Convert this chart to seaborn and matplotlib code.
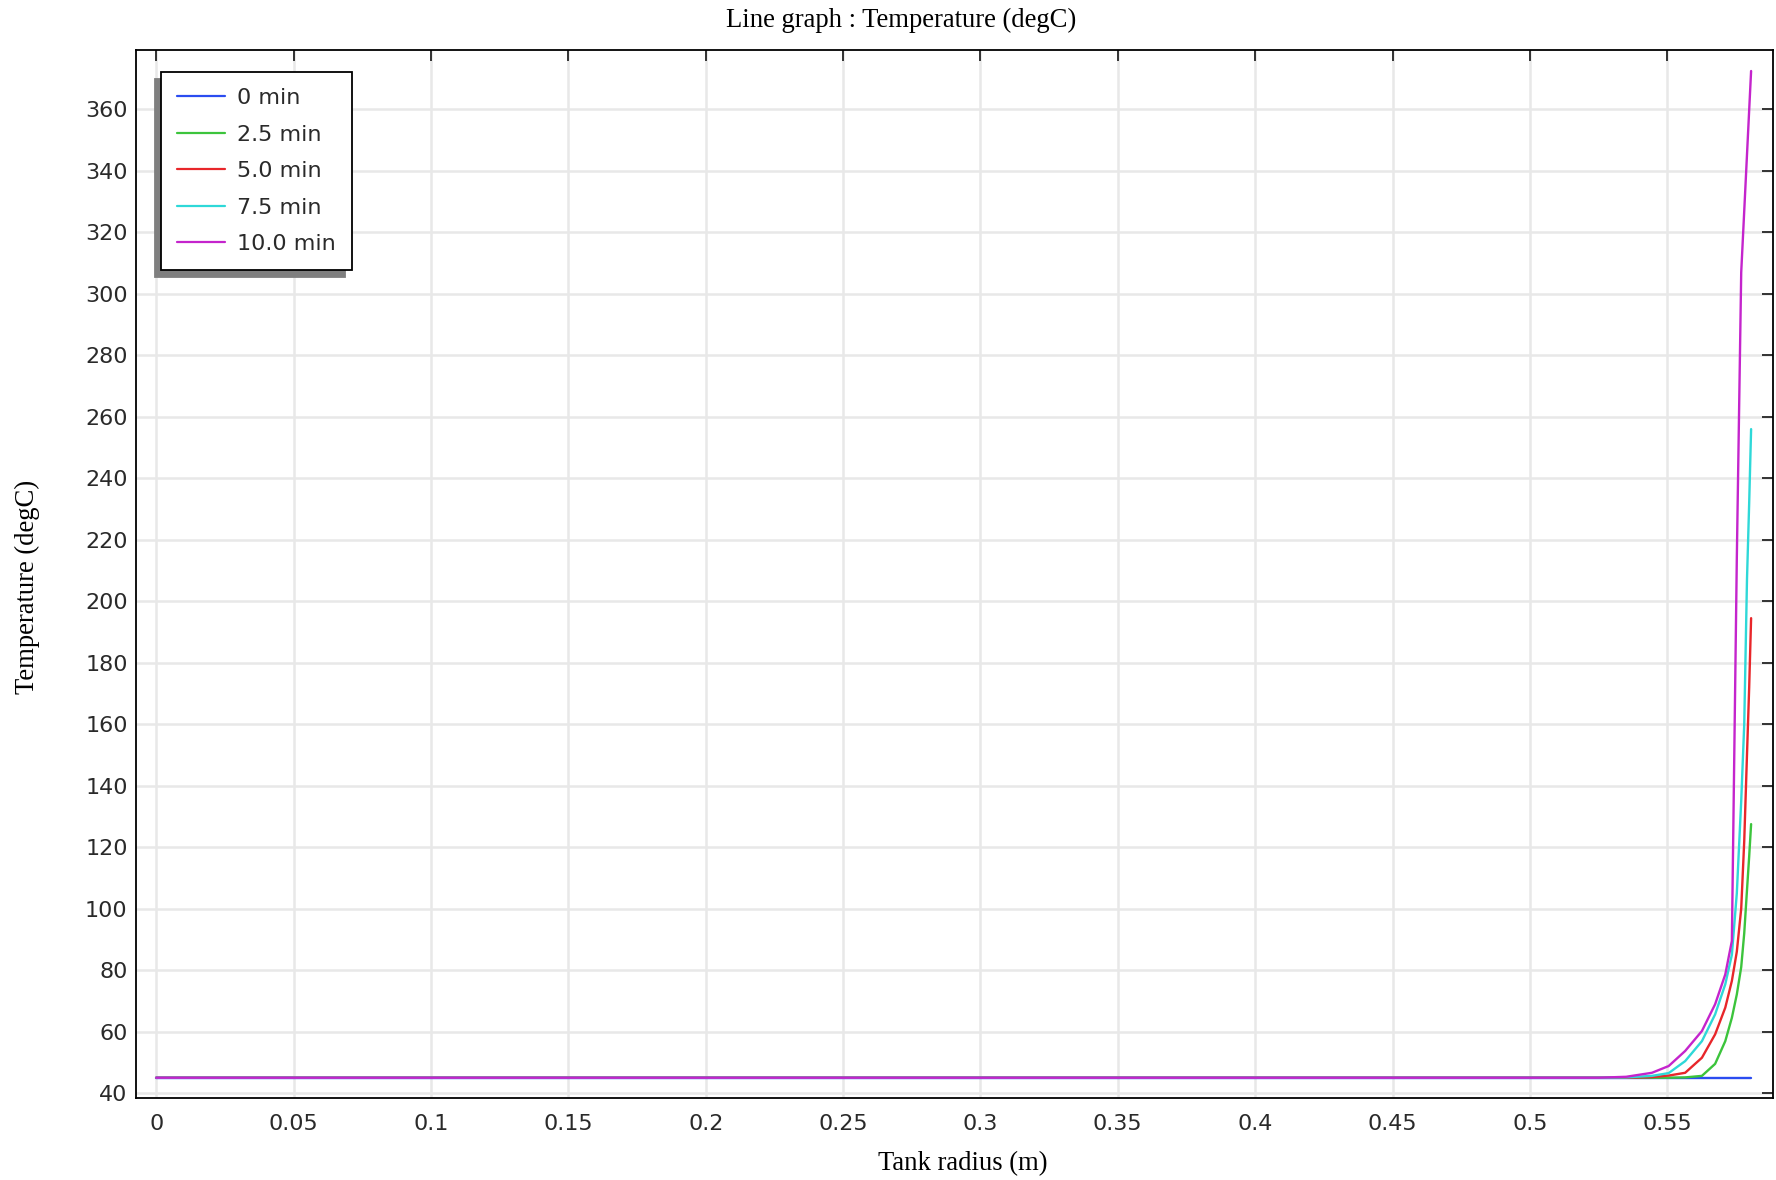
import matplotlib
matplotlib.use("Agg")
import matplotlib.pyplot as plt
import numpy as np
import pandas as pd
import seaborn as sns

# Radial sample positions (m) and temperature profiles (degC) at each time
radius_m = [0.0, 0.50, 0.525, 0.535, 0.5444, 0.5505, 0.5565, 0.5626, 0.5674,
            0.5711, 0.5735, 0.5753, 0.5769, 0.5780, 0.5790, 0.5798, 0.5805]
temp_0min = [45, 45, 45, 45, 45, 45, 45, 45, 45, 45, 45, 45, 45, 45, 45, 45, 45]
temp_2_5min = [45, 45, 45, 45, 45, 45, 45.1, 45.6, 49.5, 56.9, 64.5, 72.1, 81,
               92, 106, 117, 127.5]
temp_5_0min = [45, 45, 45, 45, 45.2, 45.7, 46.6, 51.5, 59.1, 67.8, 76.5, 86,
               100, 122, 150, 172, 194.5]
temp_7_5min = [45, 45, 45, 45.1, 45.6, 46.5, 50.4, 56.9, 65.6, 75.4, 85, 105,
               135, 160, 207, 232, 256]
temp_10_0min = [45, 45, 45, 45.3, 46.6, 48.8, 53.7, 60.2, 68.9, 78.6, 89.5,
                214, 307, 327, 345.2, 359.8, 372.5]

time_labels = ["0 min", "2.5 min", "5.0 min", "7.5 min", "10.0 min"]
line_colors = ["#2b4cf0", "#3cc43c", "#e8262a", "#2ed8d8", "#c424cc"]

x_ticks = [0, 0.05, 0.1, 0.15, 0.2, 0.25, 0.3, 0.35, 0.4, 0.45, 0.5, 0.55]
x_tick_labels = ["0", "0.05", "0.1", "0.15", "0.2", "0.25", "0.3", "0.35",
                 "0.4", "0.45", "0.5", "0.55"]
y_ticks = list(range(40, 361, 20))

profiles = [temp_0min, temp_2_5min, temp_5_0min, temp_7_5min, temp_10_0min]
df = pd.concat(
    [pd.DataFrame({"radius": radius_m, "temp": t, "time": lbl})
     for lbl, t in zip(time_labels, profiles)],
    ignore_index=True,
)

sns.set_style("white")
plt.rcParams["font.family"] = ["DejaVu Sans"]

fig = plt.figure(figsize=(17.76, 11.80), dpi=100)
W, H = 1776, 1180
left, right, top, bottom = 136, 1773, 49.5, 1098
ax = fig.add_axes([left / W, 1 - bottom / H, (right - left) / W, (bottom - top) / H])

sns.lineplot(data=df, x="radius", y="temp", hue="time", hue_order=time_labels,
             palette=line_colors, estimator=None, sort=False, linewidth=1.7,
             ax=ax)

ax.set_xlim(-0.00735, 0.58847)
ax.set_ylim(38.4, 379.5)
ax.set_xticks(x_ticks)
ax.set_xticklabels(x_tick_labels)
ax.set_yticks(y_ticks)

ax.grid(True, color="#e8e8e8", linewidth=1.8)
ax.set_axisbelow(True)
for s in ax.spines.values():
    s.set_visible(True)
    s.set_color("black")
    s.set_linewidth(1.3)

ax.tick_params(axis="both", direction="in", length=8, width=1.1, color="black",
               labelsize=16, labelcolor="#2a2a2a", top=True, right=True,
               labeltop=False, labelright=False)
ax.tick_params(axis="x", pad=11.6)
ax.tick_params(axis="y", pad=6)

ax.set_xlabel("")
ax.set_ylabel("")

serif = ["Liberation Serif", "DejaVu Serif"]
fig.text(901 / W, 1 - 26.7 / H, "Line graph : Temperature (degC)",
         ha="center", va="baseline", fontsize=19.2, family=serif, color="black")
fig.text(963 / W, 1 - 1170 / H, "Tank radius (m)", ha="center", va="baseline",
         fontsize=19.2, family=serif, color="black")
fig.text(27 / W, 1 - 587 / H, "Temperature (degC)", ha="center", va="center",
         rotation=90, fontsize=19.2, family=serif, color="black")

handles, labels = ax.get_legend_handles_labels()
leg = ax.legend(handles, labels, loc="upper left",
                bbox_to_anchor=(0.0153, 0.9783), borderaxespad=0,
                fontsize=16, frameon=True, fancybox=False,
                shadow={"ox": -4.7, "oy": -5.0, "facecolor": "#7f7f7f",
                        "edgecolor": "#7f7f7f", "alpha": 1.0},
                handlelength=2.16, handletextpad=0.53, labelspacing=0.74,
                borderpad=0.72)
leg.get_frame().set_edgecolor("black")
leg.get_frame().set_linewidth(1.3)
leg.get_frame().set_alpha(1.0)
for t in leg.get_texts():
    t.set_color("#2a2a2a")
for lh in leg.get_lines():
    lh.set_linewidth(1.6)

fig.savefig("out.png", dpi=100)
